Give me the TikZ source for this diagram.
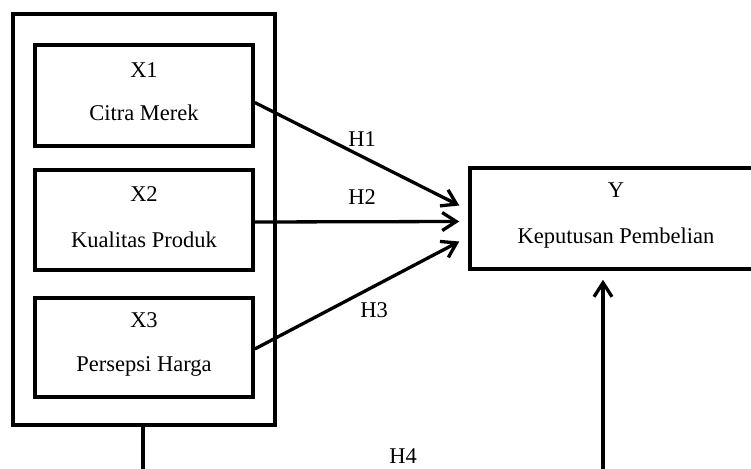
\documentclass[tikz,border=0pt]{standalone}
\usepackage{fontspec}
\setmainfont{Liberation Serif}
\usetikzlibrary{arrows.meta}
\begin{document}
\begin{tikzpicture}[x=1pt,y=-1pt,
  box/.style={draw=black,line width=3.5pt,rectangle,inner sep=0pt},
  txt/.style={font=\fontsize{22.5}{26}\selectfont,inner sep=0pt,anchor=center},
  conn/.style={line width=3.3pt,-{Straight Barb[length=14pt,width=18pt,line width=3.3pt]}},
  plain/.style={line width=3.3pt}]
\useasboundingbox (0,0) rectangle (751,468);
\clip (0,0) rectangle (751,468);
\fill[white] (0,0) rectangle (751,468);
% outer box
\node[box,minimum width=262pt,minimum height=411pt] (outer) at (144,219.5) {};
% inner boxes
\node[box,minimum width=218pt,minimum height=101pt] (x1) at (144,95.5) {};
\node[box,minimum width=218pt,minimum height=100pt] (x2) at (144,220) {};
\node[box,minimum width=218pt,minimum height=99pt] (x3) at (144,347.5) {};
\node[txt] (x1a) at (144,70) {X1};
\node[txt] (x1b) at (144,113) {Citra Merek};
\node[txt] (x2a) at (144,194) {X2};
\node[txt] (x2b) at (144,240) {Kualitas Produk};
\node[txt] (x3a) at (144,320) {X3};
\node[txt] (x3b) at (144,366) {Persepsi Harga};
% Y box (extends beyond right edge)
\node[box,minimum width=340pt,minimum height=101pt] (y) at (640,218.5) {};
\node[txt] (ya) at (616,190) {Y};
\node[txt] (yb) at (616,238) {Keputusan Pembelian};
% arrows
\draw[conn] ([yshift=-7pt]x1.east) -- ([xshift=-9pt,yshift=13pt]y.west);
\draw[conn] ([yshift=-2pt]x2.east) -- ([xshift=-9pt,yshift=-3pt]y.west);
\draw[conn] ([yshift=-1.5pt]x3.east) -- ([xshift=-9pt,yshift=-23pt]y.west);
\node[txt] (h1) at (362,139) {H1};
\node[txt] (h2) at (362,197) {H2};
\node[txt] (h3) at (374,310) {H3};
% H4 path (cut off at bottom)
\coordinate (b1) at (143,480);
\coordinate (b2) at (603,480);
\draw[plain] (outer.south -| b1) -- (b1);
\draw[conn] (b2) -- ([yshift=-9pt]y.south -| b2);
\node[txt] (h4) at (403,456) {H4};
\end{tikzpicture}
\end{document}
